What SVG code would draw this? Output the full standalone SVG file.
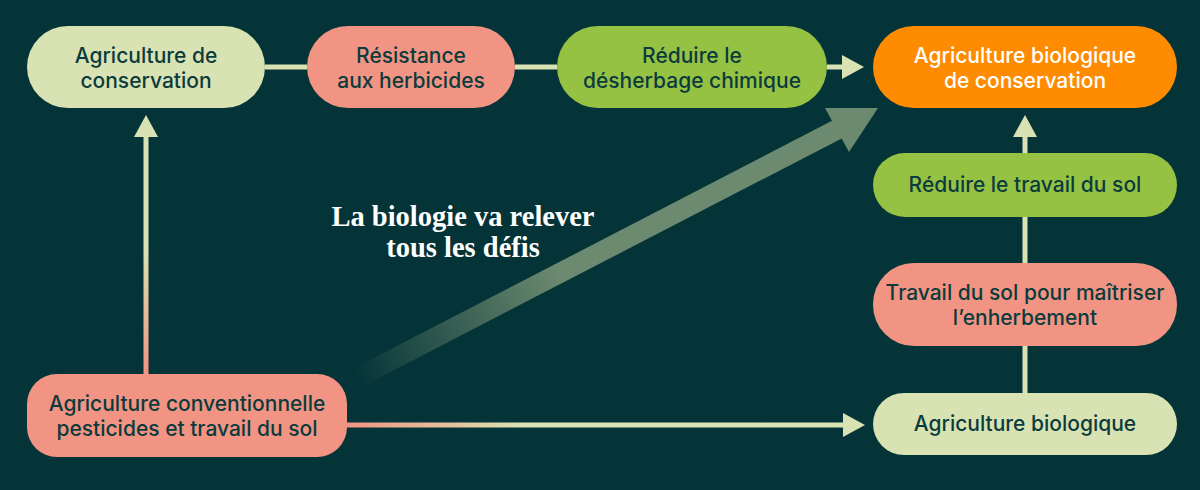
<svg xmlns="http://www.w3.org/2000/svg" width="1200" height="490" viewBox="0 0 1200 490">
  <defs>
    <style>
      .t { font-family: Inter, "Noto Sans", "Liberation Sans", sans-serif; font-size: 21px; font-weight: 500; fill: #0b3b3d; text-anchor: middle; }
      .w { fill: #ffffff; }
      .big { font-family: "Liberation Serif", "DejaVu Serif", serif; font-size: 28.5px; font-weight: 700; fill: #ffffff; text-anchor: middle; }
      .pale { fill: #d9e2b2; }
      .salmon { fill: #f29483; }
      .green { fill: #96c244; }
      .orange { fill: #ff8c00; }
      .ln { stroke: #d9e2b2; stroke-width: 5; fill: none; }
      .ah { fill: #d9e2b2; }
    </style>
    <linearGradient id="gBottom" gradientUnits="userSpaceOnUse" x1="347" y1="0" x2="520" y2="0">
      <stop offset="0" stop-color="#f29483"/>
      <stop offset="1" stop-color="#d9e2b2"/>
    </linearGradient>
    <linearGradient id="gLeft" gradientUnits="userSpaceOnUse" x1="0" y1="250" x2="0" y2="372">
      <stop offset="0" stop-color="#d9e2b2"/>
      <stop offset="1" stop-color="#f29483"/>
    </linearGradient>
    <linearGradient id="gBig" gradientUnits="userSpaceOnUse" x1="357" y1="378" x2="560" y2="273">
      <stop offset="0" stop-color="#6c8a6f" stop-opacity="0"/>
      <stop offset="1" stop-color="#6c8a6f" stop-opacity="1"/>
    </linearGradient>
  </defs>
  <rect x="0" y="0" width="1200" height="490" fill="#053438"/>

  <g id="connectors">
    <line class="ln" x1="265" y1="67" x2="307" y2="67"/>
    <line class="ln" x1="515" y1="67" x2="557" y2="67"/>
    <line class="ln" x1="827" y1="67" x2="845" y2="67"/>
    <polygon class="ah" points="842,55 864,67 842,79"/>
    <line x1="146" y1="374" x2="146" y2="134" stroke="url(#gLeft)" stroke-width="5"/>
    <polygon class="ah" points="134,137 146,115 158,137"/>
    <line x1="347" y1="425" x2="846" y2="425" stroke="url(#gBottom)" stroke-width="5"/>
    <polygon class="ah" points="843,413 865,425 843,437"/>
    <line class="ln" x1="1025" y1="393" x2="1025" y2="346"/>
    <line class="ln" x1="1025" y1="263" x2="1025" y2="217"/>
    <line class="ln" x1="1025" y1="153" x2="1025" y2="134"/>
    <polygon class="ah" points="1013,137 1025,115 1037,137"/>
    <line x1="357" y1="378" x2="840" y2="128" stroke="url(#gBig)" stroke-width="20"/>
    <polygon fill="#6c8a6f" points="825,108 878,108 849,152"/>
  </g>

  <g id="n-agri-conservation">
    <rect class="pale" x="27" y="26" width="238" height="82" rx="41"/>
    <text class="t" x="146" y="63">Agriculture de</text>
    <text class="t" x="146" y="88">conservation</text>
  </g>
  <g id="n-resistance">
    <rect class="salmon" x="307" y="26" width="208" height="82" rx="41"/>
    <text class="t" x="411" y="63">Résistance</text>
    <text class="t" x="411" y="88">aux herbicides</text>
  </g>
  <g id="n-reduire-desherbage">
    <rect class="green" x="557" y="26" width="270" height="82" rx="41"/>
    <text class="t" x="692" y="63">Réduire le</text>
    <text class="t" x="692" y="88">désherbage chimique</text>
  </g>
  <g id="n-agri-bio-conservation">
    <rect class="orange" x="873" y="26" width="304" height="82" rx="41"/>
    <text class="t w" x="1025" y="63">Agriculture biologique</text>
    <text class="t w" x="1025" y="88">de conservation</text>
  </g>
  <g id="n-reduire-travail">
    <rect class="green" x="873" y="153" width="304" height="64" rx="32"/>
    <text class="t" x="1025" y="192">Réduire le travail du sol</text>
  </g>
  <g id="n-travail-sol">
    <rect class="salmon" x="873" y="263" width="304" height="83" rx="41"/>
    <text class="t" x="1025" y="300">Travail du sol pour maîtriser</text>
    <text class="t" x="1025" y="325">l’enherbement</text>
  </g>
  <g id="n-agri-bio">
    <rect class="pale" x="873" y="393" width="304" height="62" rx="31"/>
    <text class="t" x="1025" y="431">Agriculture biologique</text>
  </g>
  <g id="n-agri-conventionnelle">
    <rect class="salmon" x="27" y="374" width="320" height="83" rx="30"/>
    <text class="t" x="187" y="411">Agriculture conventionnelle</text>
    <text class="t" x="187" y="436">pesticides et travail du sol</text>
  </g>

  <g id="label-biologie">
    <text class="big" x="463" y="226">La biologie va relever</text>
    <text class="big" x="463" y="257">tous les défis</text>
  </g>
</svg>
